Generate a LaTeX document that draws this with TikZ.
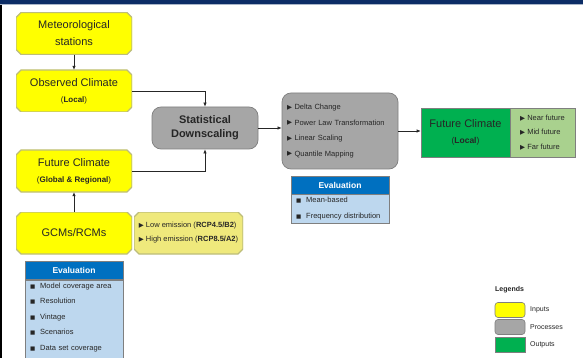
\documentclass[tikz,border=0pt]{standalone}
\usepackage{fontspec}
\setmainfont{Liberation Sans}
\newfontfamily\symfont{DejaVu Sans}
\usetikzlibrary{arrows.meta,positioning,calc}
\definecolor{FlowInk}{HTML}{262626}
\definecolor{InYellow}{HTML}{FFFF00}
\definecolor{InEdge}{HTML}{BDBD7A}
\definecolor{PaleYellow}{HTML}{EFE97C}
\definecolor{ProcGrey}{HTML}{A6A6A6}
\definecolor{ProcEdge}{HTML}{7F7F7F}
\definecolor{OutGreen}{HTML}{00B050}
\definecolor{PaleGreen}{HTML}{A9D18E}
\definecolor{EvalBlue}{HTML}{0070C0}
\definecolor{EvalPale}{HTML}{BDD7EE}
\definecolor{TopNavy}{HTML}{0C2D66}
\newcommand\tribul{{\symfont\fontsize{6.5}{6}\selectfont\raisebox{0.3pt}{▶}}\ }
\newcommand\sqbul{{\symfont\fontsize{5.5}{6}\selectfont\raisebox{0.3pt}{■}}\ \ }
\tikzset{
  flow/.style={-{Latex[length=4pt,width=3.4pt]}, line width=0.6pt, draw=FlowInk},
  % octagon with small cut corners, filled behind the text
  cutfill/.initial=InYellow,
  inbox/.style={rectangle, align=center, inner sep=1pt,
                minimum width=116pt, minimum height=42pt, font=\fontsize{11}{13}\selectfont,
                path picture={
                  \path[fill=\pgfkeysvalueof{/tikz/cutfill}, draw=InEdge, line width=1.3pt]
                    ([xshift=5pt]path picture bounding box.north west)
                    -- ([xshift=-5pt]path picture bounding box.north east)
                    -- ([yshift=-5pt]path picture bounding box.north east)
                    -- ([yshift=5pt]path picture bounding box.south east)
                    -- ([xshift=-5pt]path picture bounding box.south east)
                    -- ([xshift=5pt]path picture bounding box.south west)
                    -- ([yshift=5pt]path picture bounding box.south west)
                    -- ([yshift=-5pt]path picture bounding box.north west) -- cycle;
                }},
  subbox/.style={inbox, cutfill=PaleYellow, minimum width=109pt, align=left,
                 font=\fontsize{7.5}{14}\selectfont},
  procbox/.style={rounded corners=9pt, draw=ProcEdge, fill=ProcGrey, line width=0.7pt,
                  align=left, inner sep=1pt},
  outbox/.style={draw=ProcEdge, fill=OutGreen, line width=0.6pt, align=center, inner sep=1pt,
                 minimum width=89pt, minimum height=49pt, font=\fontsize{11}{13}\selectfont},
  evalhead/.style={draw=ProcEdge, fill=EvalBlue, text=white, line width=0.5pt,
                   minimum width=98pt, minimum height=18pt, inner sep=0pt,
                   font=\bfseries\fontsize{8.5}{10}\selectfont},
  evalbody/.style={draw=ProcEdge, fill=EvalPale, line width=0.5pt, align=left, anchor=north,
                   text width=88pt, inner xsep=5pt, inner ysep=3pt,
                   font=\fontsize{7.5}{15.5}\selectfont},
  swatch/.style={draw=ProcEdge, line width=0.6pt, minimum width=30pt, minimum height=15pt,
                 inner sep=0pt},
  legtext/.style={anchor=west, inner sep=0pt, font=\fontsize{7}{8}\selectfont},
}
\begin{document}
\begin{tikzpicture}[x=1pt,y=-1pt,text=FlowInk]
    \useasboundingbox[fill=white] (0,0) rectangle (583,358);
    \clip (0,0) rectangle (583,358);
    % page frame
    \fill[TopNavy] (0,0) rectangle (583,4);
    \fill[TopNavy!35] (0,4) rectangle (583,5.2);
    \fill[black] (0,5.2) rectangle (2,358);
    % inputs
    \node[inbox,font=\fontsize{11}{17}\selectfont] (met) at (74,33.5) {Meteorological\\stations};
    \node[inbox] (obs) at (74,91) {Observed Climate\\[3pt]{\fontsize{8}{9}\selectfont(\textbf{Local})}};
    \node[inbox] (fut) at (74,171) {Future Climate\\[3pt]{\fontsize{8}{9}\selectfont(\textbf{Global \& Regional})}};
    \node[inbox] (gcm) at (74,233) {GCMs/RCMs};
    \node[subbox] (emis) at (188.5,233) {\tribul Low emission (\textbf{RCP4.5/B2})\\\tribul High emission (\textbf{RCP8.5/A2})};
    % processes
    \node[procbox,minimum width=106pt,minimum height=42pt,align=center,
          font=\bfseries\fontsize{11}{14}\selectfont] (stat) at (205,128) {Statistical\\Downscaling};
    \node[procbox,minimum width=116pt,minimum height=76pt,text width=106pt,
          font=\fontsize{7.5}{15.5}\selectfont] (proc) at (340,131)
          {\tribul Delta Change\\\tribul Power Law Transformation\\\tribul Linear Scaling\\\tribul Quantile Mapping};
    % outputs
    \node[outbox] (loc) at (465.5,132.5) {Future Climate\\[3pt]{\fontsize{8.5}{10}\selectfont(\textbf{Local})}};
    \node[outbox,fill=PaleGreen,minimum width=65pt,align=left,
          font=\fontsize{7.5}{14.5}\selectfont] (hor) at (542.5,132.5)
          {\tribul Near future\\\tribul Mid future\\\tribul Far future};
    % evaluation panels (the first runs on past the page foot)
    \node[evalhead] (evin) at (74,270.5) {Evaluation};
    \node[evalbody] (evinlist) at (evin.south)
          {\sqbul Model coverage area\\\sqbul Resolution\\\sqbul Vintage\\\sqbul Scenarios\\\sqbul Data set coverage\\\mbox{}};
    \node[evalhead] (evpr) at (340,185) {Evaluation};
    \node[evalbody] (evprlist) at (evpr.south)
          {\sqbul Mean-based\\\sqbul Frequency distribution};
    % connectors
    \draw[flow] (met) -- (obs);
    \draw[flow] (gcm) -- (fut);
    \draw[flow] (obs.east) -| (stat.north);
    \draw[flow] (fut.east) -| (stat.south);
    \draw[flow] (stat.east) -- (stat.east -| proc.west);
    \draw[flow] (proc.east) -- (proc.east -| loc.west);
    % legend
    \node[legtext,font=\bfseries\fontsize{7}{8}\selectfont] (legtitle) at (495,290) {Legends};
    \node[swatch,fill=InYellow,rounded corners=3pt] (swin) at (510,310) {};
    \node[swatch,fill=ProcGrey,rounded corners=3pt] (swproc) at (510,327) {};
    \node[swatch,fill=OutGreen] (swout) at (510,345) {};
    \node[legtext] (lgin) at (530,310) {Inputs};
    \node[legtext] (lgproc) at (530,327) {Processes};
    \node[legtext] (lgout) at (530,345) {Outputs};
  \end{tikzpicture}
\end{document}
